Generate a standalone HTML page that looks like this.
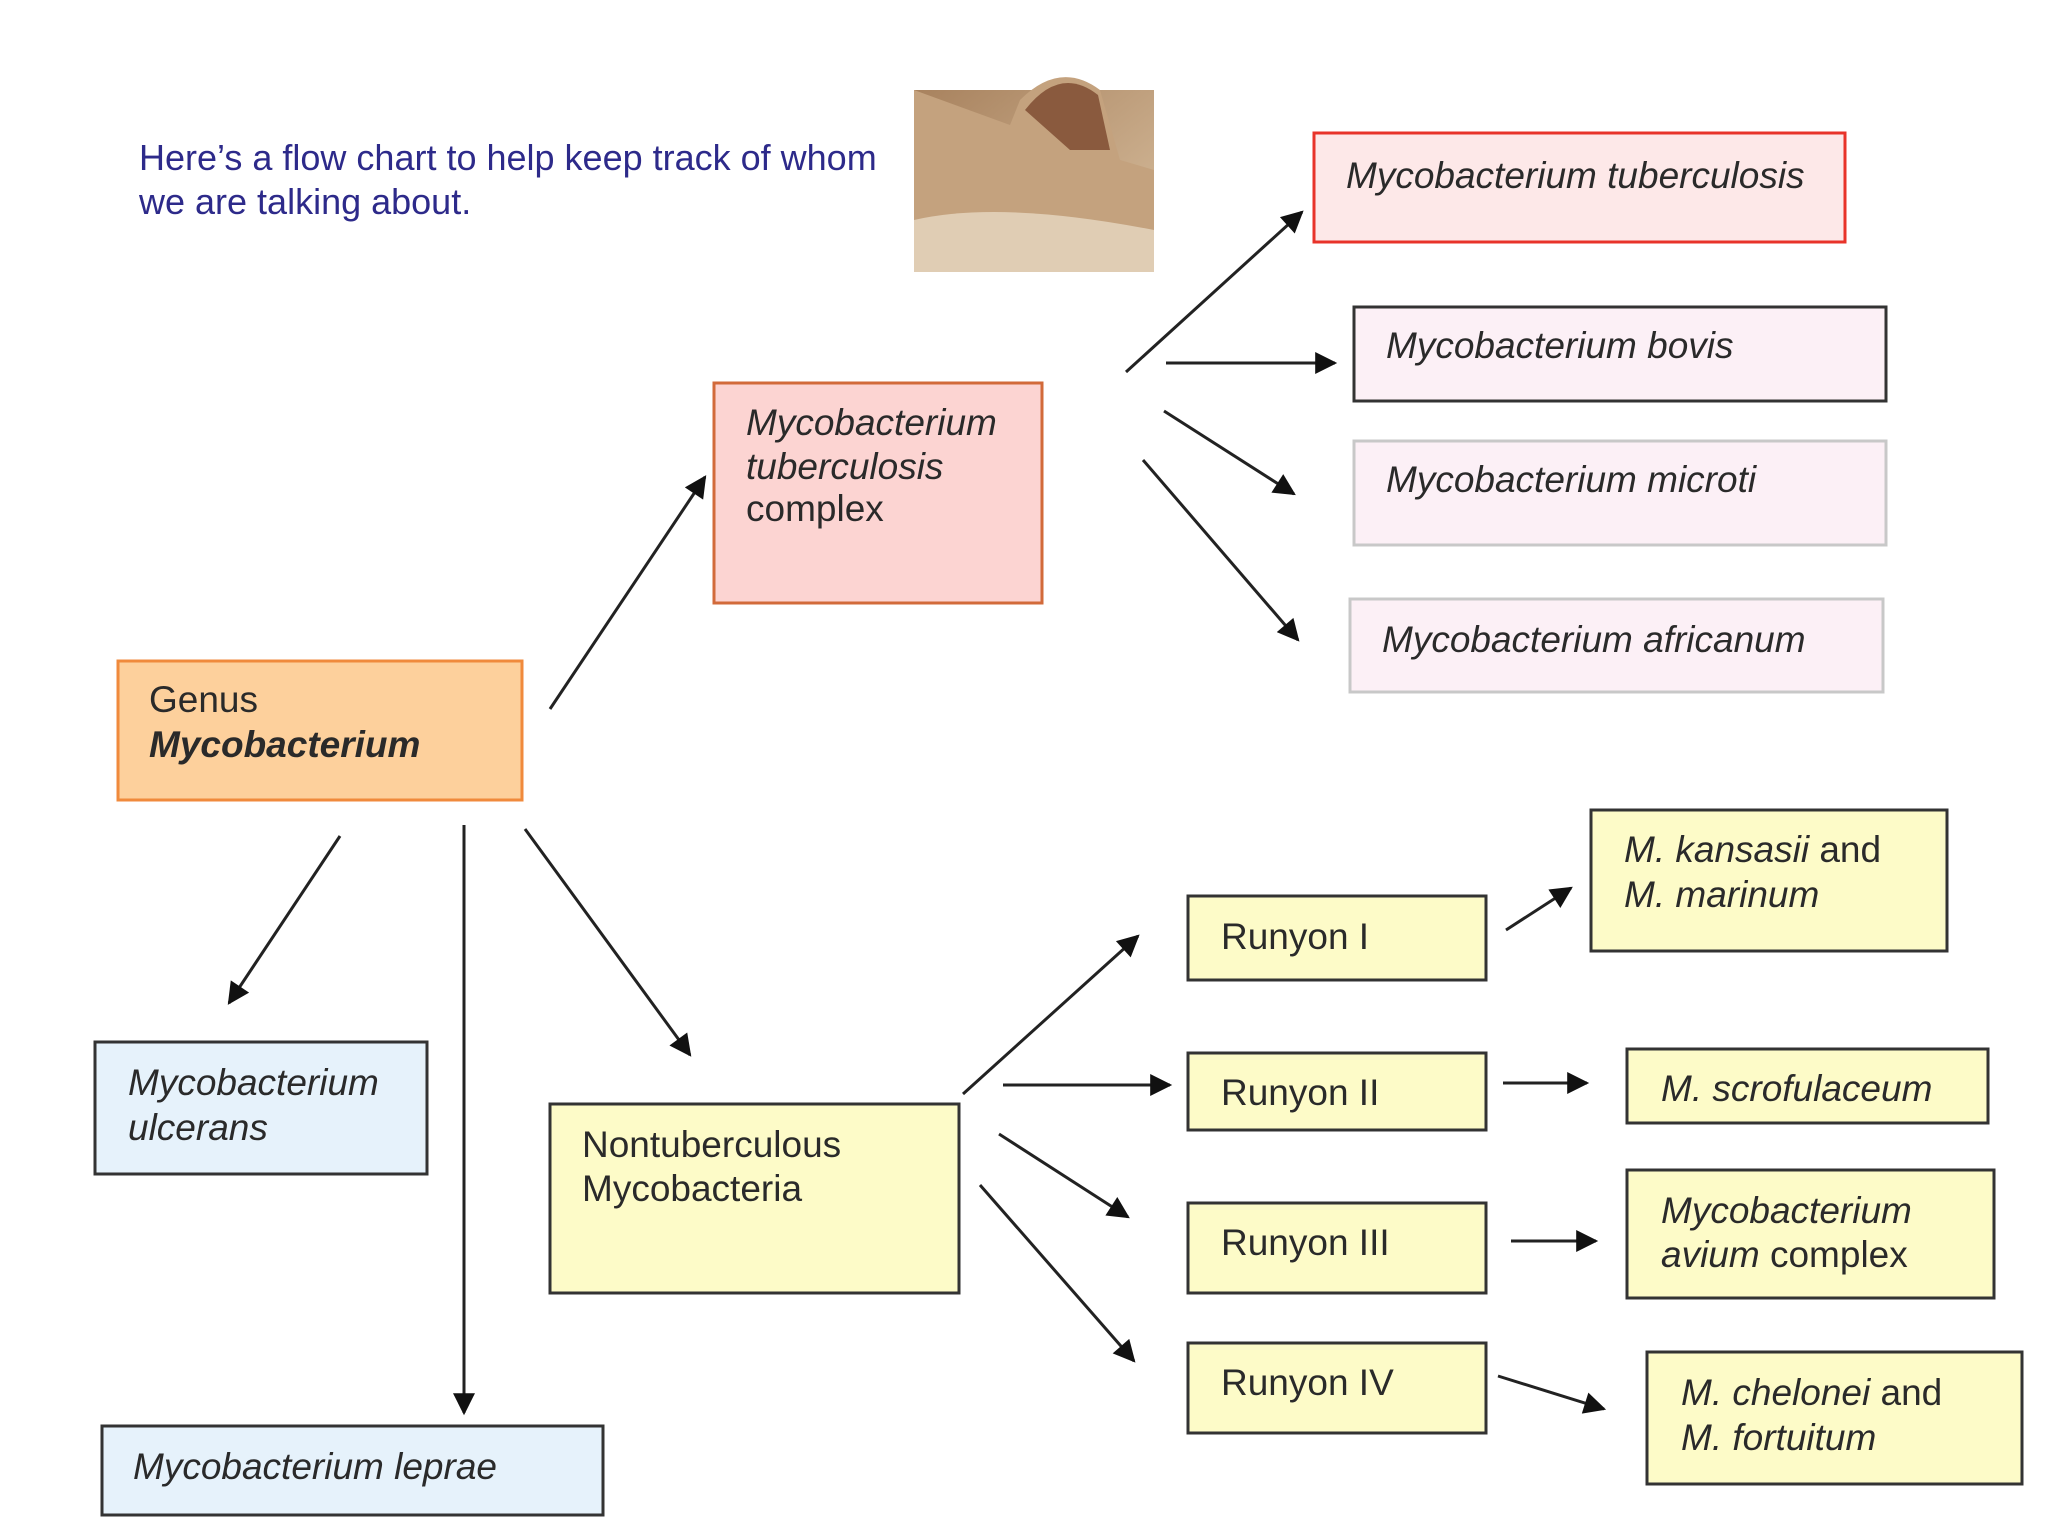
<!DOCTYPE html>
<html><head><meta charset="utf-8"><style>
html,body{margin:0;padding:0;background:#fff}
svg{display:block}
text{font-family:"Liberation Sans",Arial,sans-serif;font-size:37px;fill:#2a2a2a}
.i{font-style:italic}
</style></head><body>
<svg width="2048" height="1536" viewBox="0 0 2048 1536" xmlns="http://www.w3.org/2000/svg">
<defs>
<marker id="a" markerWidth="10" markerHeight="10" refX="9" refY="5" orient="auto" markerUnits="userSpaceOnUse" viewBox="0 0 10 10">
</marker>
<marker id="ah" viewBox="0 0 10 10" refX="9" refY="5" markerWidth="26" markerHeight="22" markerUnits="userSpaceOnUse" orient="auto"><path d="M0,0 L10,5 L0,10 z" fill="#111"/></marker>
<linearGradient id="rat" x1="0" y1="0" x2="1" y2="1"><stop offset="0" stop-color="#a8825e"/><stop offset="1" stop-color="#d9c0a0"/></linearGradient>
</defs>

<text x="139" y="170" style="fill:#2d2a8a;font-size:36px">Here’s a flow chart to help keep track of whom</text>
<text x="139" y="214" style="fill:#2d2a8a;font-size:36px">we are talking about.</text>

<!-- rat image -->
<rect x="914" y="90" width="240" height="182" fill="url(#rat)"/>
<path d="M914,90 L1010,125 L1020,100 Q1060,60 1100,90 L1120,160 L1154,170 L1154,272 L914,272 Z" fill="#c4a27e"/>
<path d="M1025,110 Q1060,65 1098,95 L1110,150 L1070,150 Z" fill="#8a5a3e"/>
<path d="M914,220 Q1000,200 1154,230 L1154,272 L914,272Z" fill="#e0cdb4"/>

<g stroke-width="3">
<rect x="118" y="661" width="404" height="139" fill="#fdd09c" stroke="#f08a3c"/>
<rect x="714" y="383" width="328" height="220" fill="#fcd4d2" stroke="#d26a3a"/>
<rect x="1314" y="133" width="531" height="109" fill="#fde8e8" stroke="#e8332a"/>
<rect x="1354" y="307" width="532" height="94" fill="#fcf0f6" stroke="#333"/>
<rect x="1354" y="441" width="532" height="104" fill="#fcf0f6" stroke="#c8c8c8"/>
<rect x="1350" y="599" width="533" height="93" fill="#fcf0f6" stroke="#c8c8c8"/>
<rect x="95" y="1042" width="332" height="132" fill="#e6f2fb" stroke="#333"/>
<rect x="102" y="1426" width="501" height="89" fill="#e6f2fb" stroke="#333"/>
<rect x="550" y="1104" width="409" height="189" fill="#fdfbc8" stroke="#333"/>
<rect x="1188" y="896" width="298" height="84" fill="#fdfbc8" stroke="#333"/>
<rect x="1188" y="1053" width="298" height="77" fill="#fdfbc8" stroke="#333"/>
<rect x="1188" y="1203" width="298" height="90" fill="#fdfbc8" stroke="#333"/>
<rect x="1188" y="1343" width="298" height="90" fill="#fdfbc8" stroke="#333"/>
<rect x="1591" y="810" width="356" height="141" fill="#fdfbc8" stroke="#333"/>
<rect x="1627" y="1049" width="361" height="74" fill="#fdfbc8" stroke="#333"/>
<rect x="1627" y="1170" width="367" height="128" fill="#fdfbc8" stroke="#333"/>
<rect x="1647" y="1352" width="375" height="132" fill="#fdfbc8" stroke="#333"/>
</g>

<g stroke="#222" stroke-width="3" marker-end="url(#ah)" fill="none">
<line x1="550" y1="709" x2="705" y2="477"/>
<line x1="1126" y1="372" x2="1302" y2="212"/>
<line x1="1166" y1="363" x2="1335" y2="363"/>
<line x1="1164" y1="411" x2="1294" y2="494"/>
<line x1="1143" y1="460" x2="1298" y2="640"/>
<line x1="340" y1="836" x2="229" y2="1003"/>
<line x1="464" y1="825" x2="464" y2="1413"/>
<line x1="525" y1="829" x2="690" y2="1055"/>
<line x1="963" y1="1094" x2="1138" y2="936"/>
<line x1="1003" y1="1085" x2="1170" y2="1085"/>
<line x1="999" y1="1134" x2="1128" y2="1217"/>
<line x1="980" y1="1185" x2="1134" y2="1361"/>
<line x1="1506" y1="930" x2="1571" y2="888"/>
<line x1="1503" y1="1083" x2="1587" y2="1083"/>
<line x1="1511" y1="1241" x2="1596" y2="1241"/>
<line x1="1498" y1="1376" x2="1604" y2="1409"/>
</g>

<text x="149" y="712">Genus</text>
<text x="149" y="757" class="i" style="font-weight:bold">Mycobacterium</text>
<text x="746" y="435" class="i">Mycobacterium</text>
<text x="746" y="479" class="i">tuberculosis</text>
<text x="746" y="521">complex</text>
<text x="1346" y="188" class="i">Mycobacterium tuberculosis</text>
<text x="1386" y="358" class="i">Mycobacterium bovis</text>
<text x="1386" y="492" class="i">Mycobacterium microti</text>
<text x="1382" y="652" class="i">Mycobacterium africanum</text>
<text x="128" y="1095" class="i">Mycobacterium</text>
<text x="128" y="1140" class="i">ulcerans</text>
<text x="133" y="1479" class="i">Mycobacterium leprae</text>
<text x="582" y="1157">Nontuberculous</text>
<text x="582" y="1201">Mycobacteria</text>
<text x="1221" y="949">Runyon I</text>
<text x="1221" y="1105">Runyon II</text>
<text x="1221" y="1255">Runyon III</text>
<text x="1221" y="1395">Runyon IV</text>
<text x="1624" y="862"><tspan class="i">M. kansasii</tspan> and</text>
<text x="1624" y="907" class="i">M. marinum</text>
<text x="1661" y="1101" class="i">M. scrofulaceum</text>
<text x="1661" y="1223" class="i">Mycobacterium</text>
<text x="1661" y="1267"><tspan class="i">avium</tspan> complex</text>
<text x="1681" y="1405"><tspan class="i">M. chelonei</tspan> and</text>
<text x="1681" y="1450" class="i">M. fortuitum</text>
</svg>
</body></html>
